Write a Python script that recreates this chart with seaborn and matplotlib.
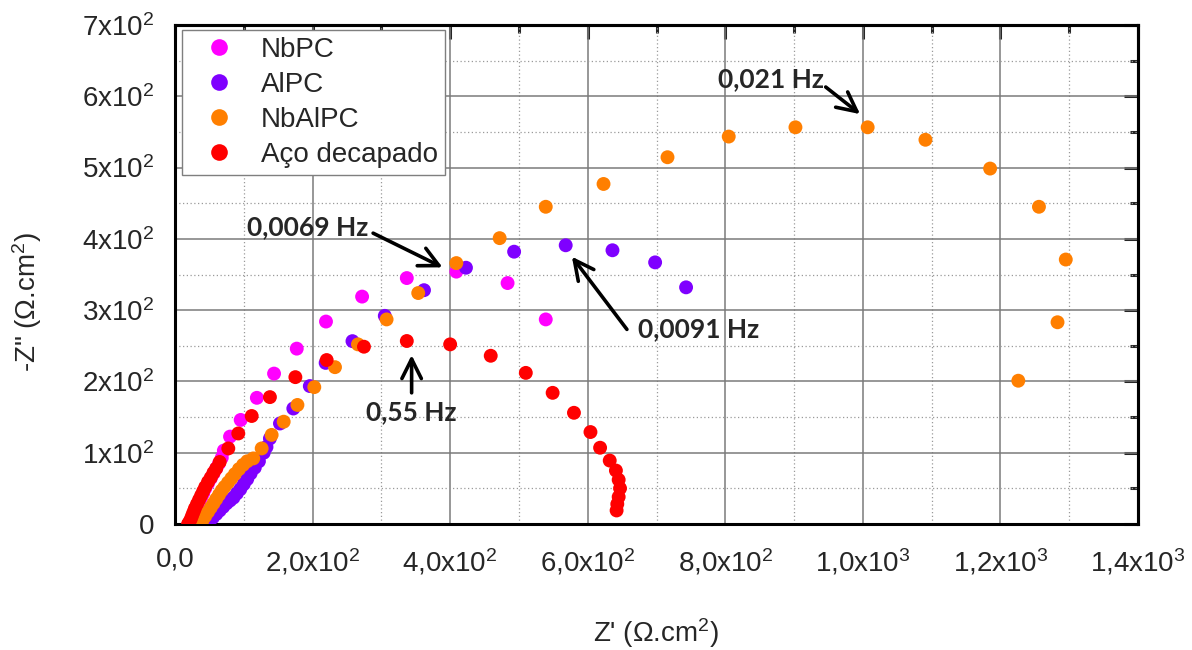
import matplotlib
matplotlib.use("Agg")
import matplotlib.pyplot as plt
from matplotlib.ticker import MultipleLocator
import pandas as pd
import seaborn as sns

# Nyquist data: Z' (real) and -Z'' (imaginary), in ohm.cm2
series_names = ["NbPC", "AlPC", "NbAlPC", "Aço decapado"]
series_colors = ["#FF00FF", "#7F00FF", "#FF7F00", "#FF0000"]

nbpc_zre = [20, 23, 26, 29, 32, 35, 38, 41, 44, 48, 52, 56, 60, 64, 68,
            71, 80, 95.5, 119, 144, 177, 219.5, 272, 337, 409, 483.5, 539]
nbpc_zim = [0, 5, 11, 17, 24, 30, 37, 43, 50, 57, 64, 71, 78, 85, 93,
            103, 122.6, 146, 177, 211, 246, 284, 319, 345, 354, 338, 287]

alpc_zre = [46, 50, 55, 60, 65, 70, 75, 80, 85, 90, 95, 100, 105, 110, 116, 122, 129, 133,
            138, 152.6, 172, 196, 219, 258, 305, 362, 423, 493, 568, 636, 698, 743]
alpc_zim = [0, 4, 9, 14, 19, 24, 29, 33, 37, 43, 49, 56, 63, 71, 79, 88, 100, 108,
            120, 141, 162, 193.5, 226, 256.5, 292, 328, 359.5, 382, 391, 384, 367, 332]

nbalpc_zre = [36, 40, 44, 48, 52, 56, 60, 64, 68, 72, 77, 82, 87, 93, 99, 105,
              113.8, 126, 140.5, 158, 178, 202.5, 232.6, 266, 307.6, 353.6, 409, 472, 539,
              623, 716, 805, 902, 1007, 1091, 1185, 1256, 1295, 1283, 1226]
nbalpc_zim = [0, 5, 11, 17, 23, 29, 35, 41, 47, 52, 58, 64, 70, 77, 83, 88,
              92, 106, 125, 143.5, 167, 192, 220, 252, 287, 324, 366, 401, 445,
              477, 514.5, 543.5, 556.5, 556.5, 539, 498.6, 445, 371, 283, 201]

aco_zre = [19, 21, 23, 25, 27, 29, 32, 35, 38, 41, 44, 48, 52, 56, 60,
           65, 77.5, 92, 111.5, 138, 175, 220.5, 274.7, 337, 400, 459, 510, 549, 580,
           604, 618, 632, 641, 645, 647, 645, 643, 642]
aco_zim = [0, 3, 7, 12, 17, 22, 28, 34, 40, 46, 52, 59, 65, 72, 78,
           87, 106, 127, 151.5, 178, 206, 230, 248.7, 256.7, 252, 236, 212, 184, 156,
           129, 107, 89, 75, 62, 50, 38, 28, 19]

x_ticks = [0, 200, 400, 600, 800, 1000, 1200, 1400]
x_tick_labels = ["0,0", "2,0x10$^{2}$", "4,0x10$^{2}$", "6,0x10$^{2}$", "8,0x10$^{2}$",
                 "1,0x10$^{3}$", "1,2x10$^{3}$", "1,4x10$^{3}$"]
y_ticks = [0, 100, 200, 300, 400, 500, 600, 700]
y_tick_labels = ["0", "1x10$^{2}$", "2x10$^{2}$", "3x10$^{2}$", "4x10$^{2}$",
                 "5x10$^{2}$", "6x10$^{2}$", "7x10$^{2}$"]

# frequency callouts: label, text position, arrow tail, arrow head (data units)
freq_labels = ["0,0069 Hz", "0,0091 Hz", "0,55 Hz", "0,021 Hz"]
freq_text_xy = [(193, 416), (761, 273), (344, 157), (866, 624)]
freq_arrow_tail = [(288, 408), (657, 273), (344, 184), (946, 613)]
freq_arrow_head = [(389, 360), (577, 375), (344, 237), (996, 575)]

frames = []
for name, zre, zim in zip(series_names,
                          [nbpc_zre, alpc_zre, nbalpc_zre, aco_zre],
                          [nbpc_zim, alpc_zim, nbalpc_zim, aco_zim]):
    frames.append(pd.DataFrame({"zre": zre, "zim": zim, "amostra": name}))
df = pd.concat(frames, ignore_index=True)

sns.set_style("white")
plt.rcParams["font.family"] = ["Liberation Sans", "DejaVu Sans"]
plt.rcParams["mathtext.fontset"] = "custom"
plt.rcParams["mathtext.rm"] = "Liberation Sans"
plt.rcParams["mathtext.it"] = "Liberation Sans:italic"
plt.rcParams["mathtext.bf"] = "Liberation Sans:bold"

fig = plt.figure(figsize=(11.92, 6.5), dpi=100)
ax = fig.add_axes([175 / 1192, 1 - 524 / 650, 963 / 1192, 499 / 650])

sns.scatterplot(data=df, x="zre", y="zim", hue="amostra", hue_order=series_names,
                palette=series_colors, s=100, linewidth=0, alpha=1, ax=ax, zorder=3)

ax.set_xlim(0, 1400)
ax.set_ylim(0, 700)

ax.set_xticks(x_ticks)
ax.set_xticklabels(x_tick_labels)
ax.set_yticks(y_ticks)
ax.set_yticklabels(y_tick_labels)
ax.xaxis.set_minor_locator(MultipleLocator(100))
ax.yaxis.set_minor_locator(MultipleLocator(50))

ax.tick_params(which="major", direction="out", length=10, width=2.2,
               labelsize=20, color="black", top=False, right=False)
ax.tick_params(which="minor", direction="out", length=5, width=2.2,
               color="black", top=False, right=False)
ax.tick_params(axis="x", which="major", pad=6)
ax.tick_params(axis="y", which="major", pad=5)

# mirrored ticks pointing inward on the top and right edges
secx = ax.secondary_xaxis("top")
secx.set_xticks(x_ticks)
secx.xaxis.set_minor_locator(MultipleLocator(100))
secx.tick_params(which="major", direction="in", length=10, width=2.2, labeltop=False)
secx.tick_params(which="minor", direction="in", length=6, width=2.2)
secy = ax.secondary_yaxis("right")
secy.set_yticks(y_ticks)
secy.yaxis.set_minor_locator(MultipleLocator(50))
secy.tick_params(which="major", direction="in", length=10, width=2.2, labelright=False)
secy.tick_params(which="minor", direction="in", length=6, width=2.2)
for sec in (secx, secy):
    for sp in sec.spines.values():
        sp.set_linewidth(2.2)
        sp.set_color("black")

for sp in ax.spines.values():
    sp.set_visible(True)
    sp.set_linewidth(2.2)
    sp.set_color("black")

ax.set_axisbelow(True)
ax.grid(True, which="major", color="#7a7a7a", linewidth=1.1, linestyle="-")
ax.grid(True, which="minor", color="#9a9a9a", linewidth=0.9, linestyle=(0, (1, 2)))

ax.set_xlabel("Z' (Ω.cm$^{2}$)", fontsize=20)
ax.set_ylabel('-Z" (Ω.cm$^{2}$)', fontsize=20)
ax.xaxis.set_label_coords(0.5, -0.185)
ax.yaxis.set_label_coords(-0.136, 0.445)

sns.move_legend(ax, "upper left", bbox_to_anchor=(0.007, 0.99), title=None,
                frameon=True, fontsize=20, borderaxespad=0, handlelength=2.2,
                handletextpad=0.4, labelspacing=0.32, borderpad=0.25,
                fancybox=False, framealpha=1, edgecolor="#7f7f7f")
leg = ax.get_legend()
leg.get_frame().set_linewidth(1.0)
for h in leg.legend_handles:
    h.set_markersize(12)
    h.set_markeredgewidth(0)

for label, txy, tail, head in zip(freq_labels, freq_text_xy, freq_arrow_tail, freq_arrow_head):
    ax.text(txy[0], txy[1], label, ha="center", va="center", fontsize=19,
            fontweight="bold", family=["Lato", "DejaVu Sans"], zorder=5)
    ax.annotate("", xy=head, xytext=tail,
                arrowprops=dict(arrowstyle="->,head_length=0.7,head_width=0.35",
                                lw=2.6, color="black", shrinkA=0, shrinkB=0,
                                mutation_scale=20),
                zorder=5)

fig.savefig("out.png", dpi=100)
